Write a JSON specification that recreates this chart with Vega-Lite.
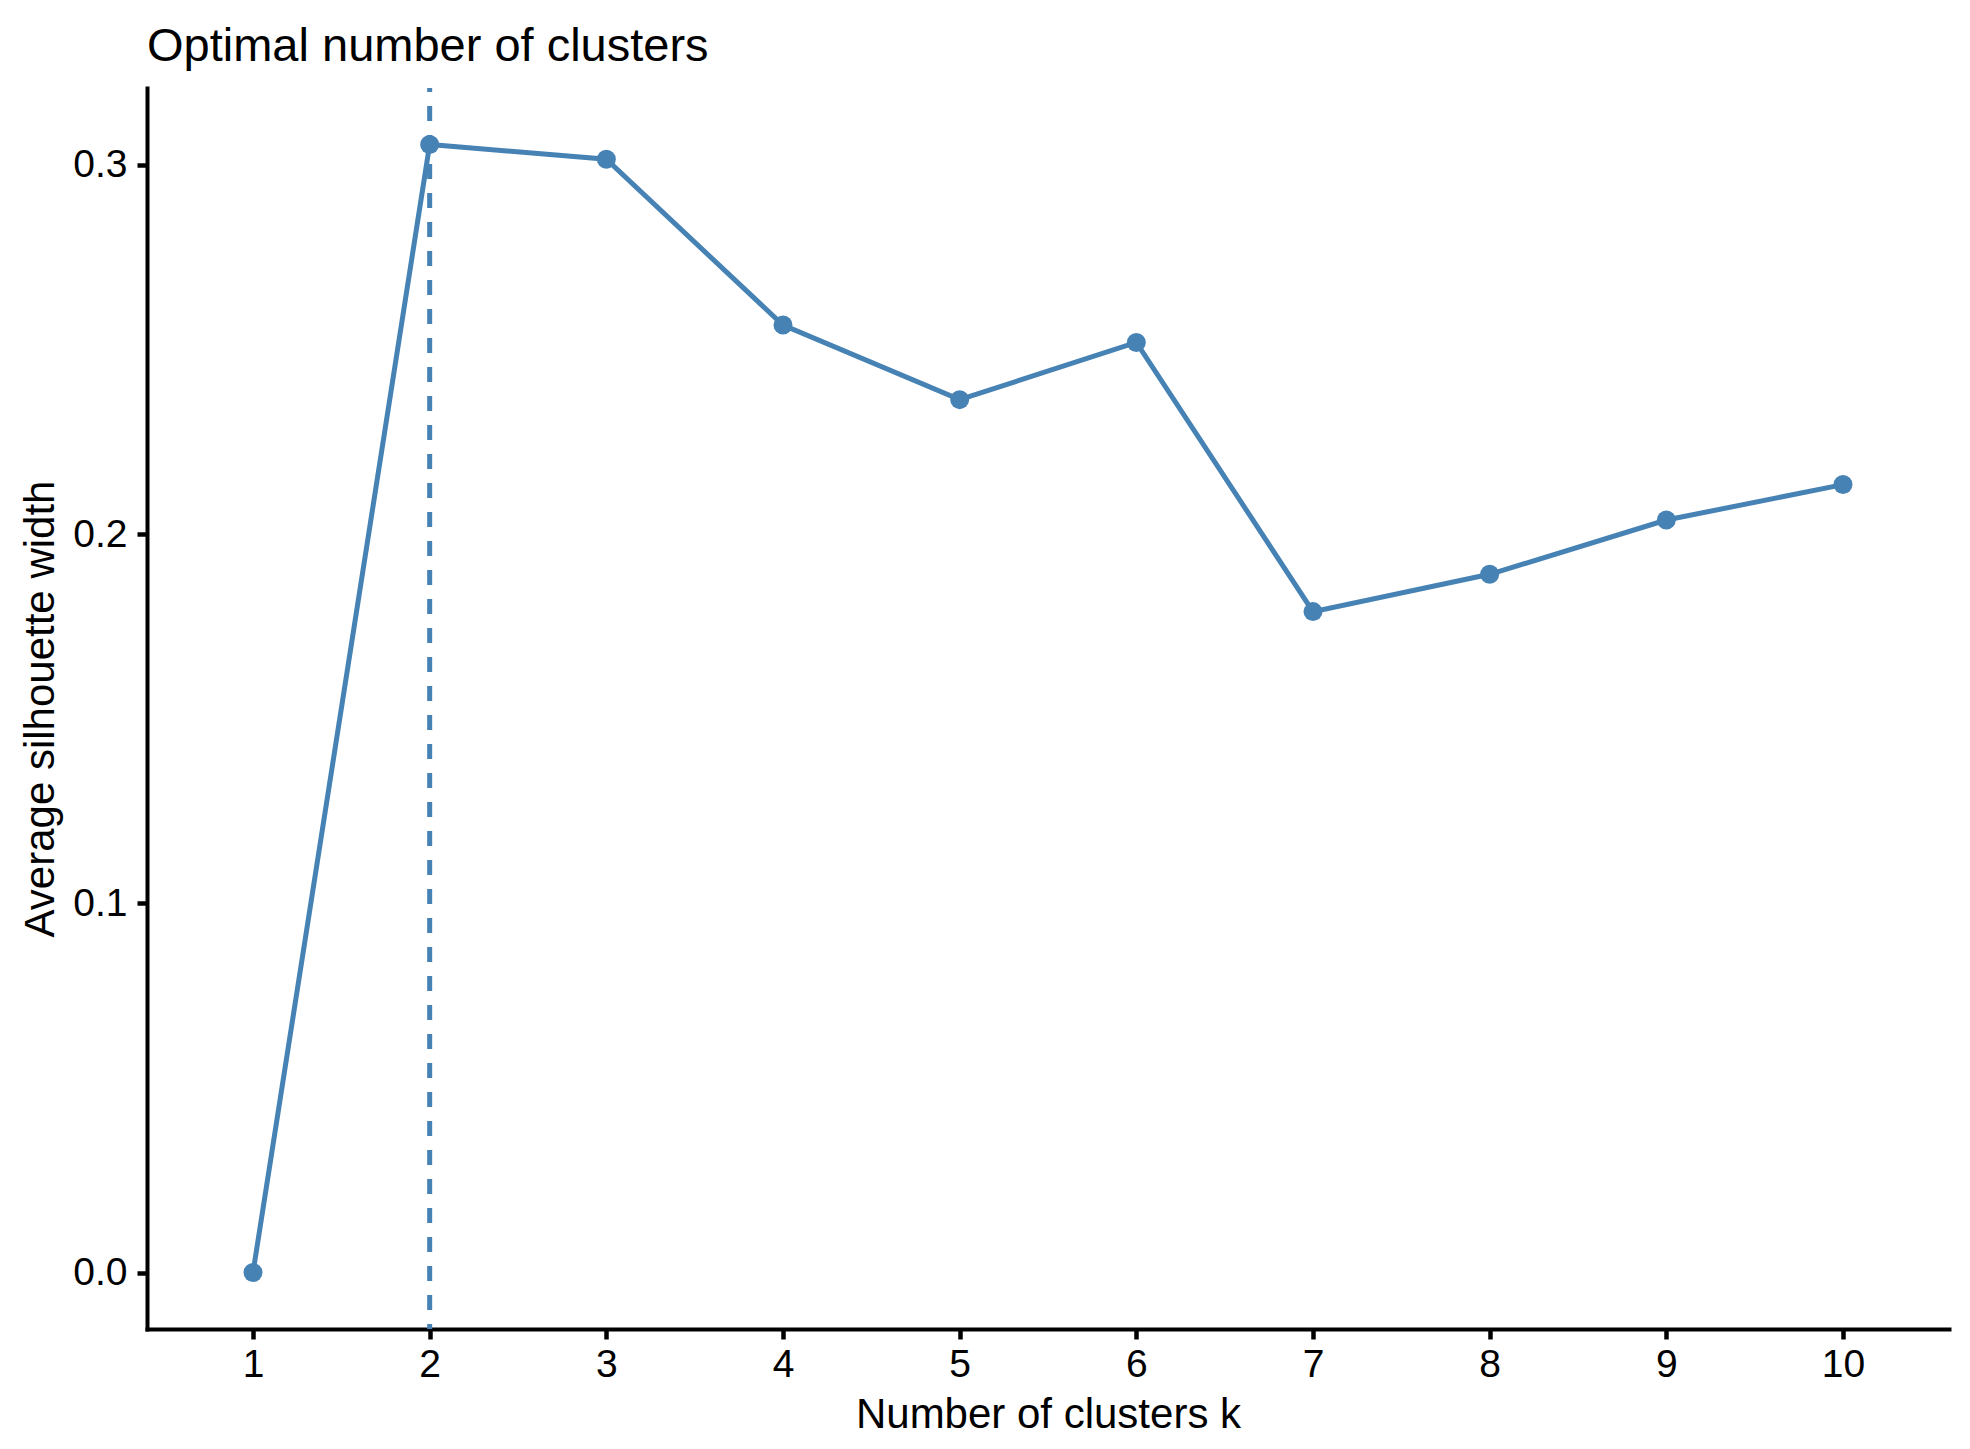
{
  "$schema": "https://vega.github.io/schema/vega-lite/v6.json",
  "width": 1802,
  "height": 1241,
  "autosize": {"type": "none"},
  "padding": {"left": 147, "top": 88, "right": 21, "bottom": 120},
  "background": "white",
  "title": {
    "text": "Optimal number of clusters",
    "anchor": "start",
    "frame": "group",
    "font": "Liberation Sans",
    "fontSize": 47,
    "fontWeight": "normal",
    "color": "black",
    "baseline": "alphabetic",
    "offset": 29,
    "dy": 51
  },
  "config": {
    "view": {"stroke": null},
    "axis": {
      "grid": false,
      "domainColor": "black",
      "domainWidth": 4,
      "domainCap": "square",
      "tickColor": "black",
      "tickWidth": 4.5,
      "tickSize": 10,
      "labelFont": "Liberation Sans",
      "labelFontSize": 39,
      "labelColor": "black",
      "titleFont": "Liberation Sans",
      "titleFontSize": 42,
      "titleFontWeight": "normal",
      "titleColor": "black",
      "titleBaseline": "alphabetic"
    },
    "axisX": {"labelPadding": 6, "titleY": 98},
    "axisY": {"labelPadding": 10, "titleX": -94}
  },
  "data": {
    "values": [
      {"k": 1, "silhouette": 0.0},
      {"k": 2, "silhouette": 0.3055},
      {"k": 3, "silhouette": 0.3015},
      {"k": 4, "silhouette": 0.2566},
      {"k": 5, "silhouette": 0.2364},
      {"k": 6, "silhouette": 0.2519},
      {"k": 7, "silhouette": 0.1790},
      {"k": 8, "silhouette": 0.1891},
      {"k": 9, "silhouette": 0.2038},
      {"k": 10, "silhouette": 0.2134}
    ]
  },
  "layer": [
    {
      "mark": {"type": "line", "color": "#4682B4", "strokeWidth": 5},
      "encoding": {
        "x": {
          "field": "k",
          "type": "quantitative",
          "title": "Number of clusters k",
          "scale": {"domain": [0.4, 10.6], "nice": false, "zero": false},
          "axis": {"values": [1, 2, 3, 4, 5, 6, 7, 8, 9, 10], "format": "d"}
        },
        "y": {
          "field": "silhouette",
          "type": "quantitative",
          "title": "Average silhouette width",
          "scale": {"domain": [-0.01528, 0.3208], "nice": false, "zero": false},
          "axis": {"values": [0, 0.1, 0.2, 0.3], "format": ".1f"}
        }
      }
    },
    {
      "mark": {"type": "point", "filled": true, "opacity": 1, "size": 360, "color": "#4682B4"},
      "encoding": {
        "x": {"field": "k", "type": "quantitative"},
        "y": {"field": "silhouette", "type": "quantitative"}
      }
    },
    {
      "data": {"values": [{"k": 2}]},
      "mark": {
        "type": "rule",
        "color": "#4682B4",
        "strokeWidth": 5,
        "strokeDash": [15, 14],
        "strokeDashOffset": 11
      },
      "encoding": {
        "x": {"field": "k", "type": "quantitative"}
      }
    }
  ]
}
